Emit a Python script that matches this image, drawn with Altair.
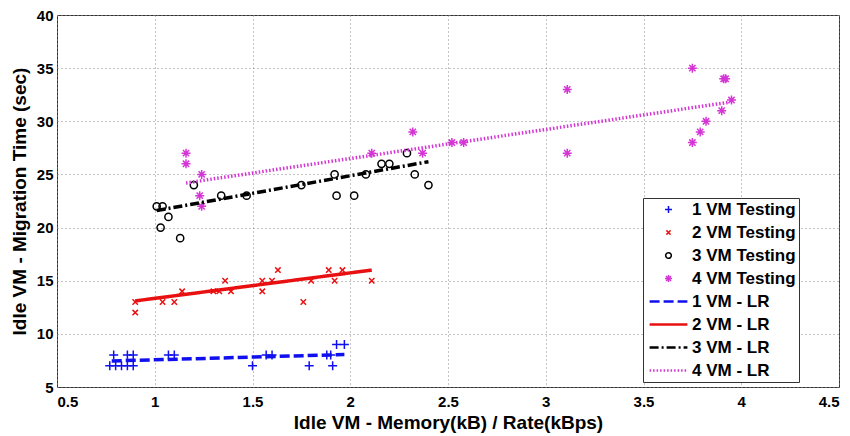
import altair as alt
import pandas as pd

# ---------------- data ----------------
vm1_x = [0.77, 0.80, 0.83, 0.86, 0.89, 0.79, 0.86, 0.89, 1.07, 1.10, 1.50, 1.57, 1.60, 1.79, 1.88, 1.90, 1.91, 1.93, 1.97]
vm1_y = [7, 7, 7, 7, 7, 8, 8, 8, 8, 8, 7, 8, 8, 7, 8, 8, 7, 9, 9]

vm2_x = [0.90, 0.90, 1.04, 1.10, 1.14, 1.30, 1.33, 1.36, 1.39, 1.55, 1.55, 1.60, 1.63, 1.76, 1.80, 1.89, 1.92, 1.96, 2.11]
vm2_y = [13, 12, 13, 13, 14, 14, 14, 15, 14, 15, 14, 15, 16, 13, 15, 16, 15, 16, 15]

vm3_x = [1.01, 1.04, 1.07, 1.03, 1.13, 1.20, 1.34, 1.47, 1.75, 1.92, 1.93, 2.02, 2.08, 2.16, 2.20, 2.29, 2.33, 2.40]
vm3_y = [22, 22, 21, 20, 19, 24, 23, 23, 24, 25, 23, 23, 25, 26, 26, 27, 25, 24]

vm4_x = [1.16, 1.16, 1.24, 1.23, 1.24, 2.11, 2.32, 2.37, 2.52, 2.58, 3.11, 3.11, 3.75, 3.91, 3.92, 3.95, 3.90, 3.82, 3.79, 3.75]
vm4_y = [27, 26, 25, 23, 22, 27, 29, 27, 28, 28, 33, 27, 35, 34, 34, 32, 31, 30, 29, 28]

# regression line end points (as drawn in the reference)
lr1_x, lr1_y = [0.78, 1.97], [7.45, 8.05]
lr2_x, lr2_y = [0.90, 2.11], [13.1, 16.0]
lr3_x, lr3_y = [1.01, 2.40], [21.6, 26.2]
lr4_x, lr4_y = [1.16, 3.94], [24.2, 31.8]

point_names = ["1 VM Testing", "2 VM Testing", "3 VM Testing", "4 VM Testing"]
line_names = ["1 VM - LR", "2 VM - LR", "3 VM - LR", "4 VM - LR"]
all_names = point_names + line_names

x_ticks = [0.5, 1, 1.5, 2, 2.5, 3, 3.5, 4, 4.5]
y_ticks = [5, 10, 15, 20, 25, 30, 35, 40]

# ---------------- styles ----------------
BLUE, RED, BLACK, MAG = "#1010ee", "#e81010", "#000000", "#d535d5"
colors = [BLUE, RED, BLACK, MAG, BLUE, RED, BLACK, MAG]

CROSS = "M-1,0L1,0M0,-1L0,1"
XMARK = "M-0.6,-0.6L0.6,0.6M-0.6,0.6L0.6,-0.6"
CIRC = "M0.8,0A0.8,0.8,0,1,1,-0.8,0A0.8,0.8,0,1,1,0.8,0Z"
STAR = "M-1,0L1,0M0,-1L0,1M-0.7,-0.7L0.7,0.7M-0.7,0.7L0.7,-0.7"
# legend line sample: three parallel strokes to look thick
LINE = "M-5.4,-0.15L5.4,-0.15M-5.4,0L5.4,0M-5.4,0.15L5.4,0.15"
shapes = [CROSS, XMARK, CIRC, STAR, LINE, LINE, LINE, LINE]
dashes = [[1, 0], [1, 0], [1, 0], [1, 0], [10, 4], [1, 0], [9, 3, 2, 3], [1.5, 2]]

# ---------------- tables ----------------
pts = pd.DataFrame({
    "x": vm1_x + vm2_x + vm3_x + vm4_x,
    "y": vm1_y + vm2_y + vm3_y + vm4_y,
    "series": [point_names[0]] * len(vm1_x) + [point_names[1]] * len(vm2_x)
    + [point_names[2]] * len(vm3_x) + [point_names[3]] * len(vm4_x),
})
lines = pd.DataFrame({
    "x": lr1_x + lr2_x + lr3_x + lr4_x,
    "y": lr1_y + lr2_y + lr3_y + lr4_y,
    "series": [line_names[0]] * 2 + [line_names[1]] * 2 + [line_names[2]] * 2 + [line_names[3]] * 2,
})

legend = alt.Legend(
    title=None,
    orient="none",
    legendX=586,
    legendY=183,
    symbolStrokeWidth=1.5,
    symbolFillColor="transparent",
    symbolOpacity=1,
)

x_enc = alt.X("x:Q", scale=alt.Scale(domain=[0.5, 4.5], nice=False, zero=False),
              axis=alt.Axis(values=x_ticks, format="~g", title="Idle VM - Memory(kB) / Rate(kBps)"))
y_enc = alt.Y("y:Q", scale=alt.Scale(domain=[5, 40], nice=False, zero=False),
              axis=alt.Axis(values=y_ticks, format="d", title="Idle VM - Migration Time (sec)"))
color_enc = alt.Color("series:N", scale=alt.Scale(domain=all_names, range=colors), legend=legend)
shape_enc = alt.Shape("series:N", scale=alt.Scale(domain=all_names, range=shapes), legend=legend)
dash_enc = alt.StrokeDash("series:N", scale=alt.Scale(domain=all_names, range=dashes), legend=legend)

line_layer = alt.Chart(lines).mark_line(strokeWidth=3.5).encode(
    x=x_enc, y=y_enc, color=color_enc, strokeDash=dash_enc
)
point_layer = alt.Chart(pts).mark_point(filled=False, size=81, strokeWidth=1.5, opacity=1).encode(
    x=x_enc, y=y_enc, color=color_enc, shape=shape_enc
)

chart = (
    alt.layer(point_layer, line_layer)
    .properties(width=782, height=372, autosize=alt.AutoSizeParams(type="none"),
                padding={"left": 49, "top": 7, "right": 3, "bottom": 48})
    .configure(font="Liberation Sans", background="white")
    .configure_view(stroke="#333333", strokeWidth=1)
    .configure_axis(
        grid=True, gridColor="#888888", gridDash=[1, 3], gridWidth=1, gridOpacity=1,
        domain=False, ticks=False, tickSize=0,
        labelFont="Liberation Sans", labelFontSize=15, labelFontWeight="bold", labelColor="black",
        titleFont="Liberation Sans", titleFontSize=19, titleFontWeight="bold", titleColor="black",
    )
    .configure_axisX(labelPadding=7, titlePadding=4)
    .configure_axisY(labelPadding=4, titlePadding=7)
    .configure_legend(
        labelFont="Liberation Sans", labelFontSize=17, labelFontWeight="bold", labelColor="black",
        labelLimit=400, symbolSize=49, rowPadding=5, labelOffset=15, symbolOffset=14,
        padding=3, strokeColor="#333333", fillColor="white",
    )
)

chart.save("out.html", embed_options={"renderer": "svg", "actions": False})
